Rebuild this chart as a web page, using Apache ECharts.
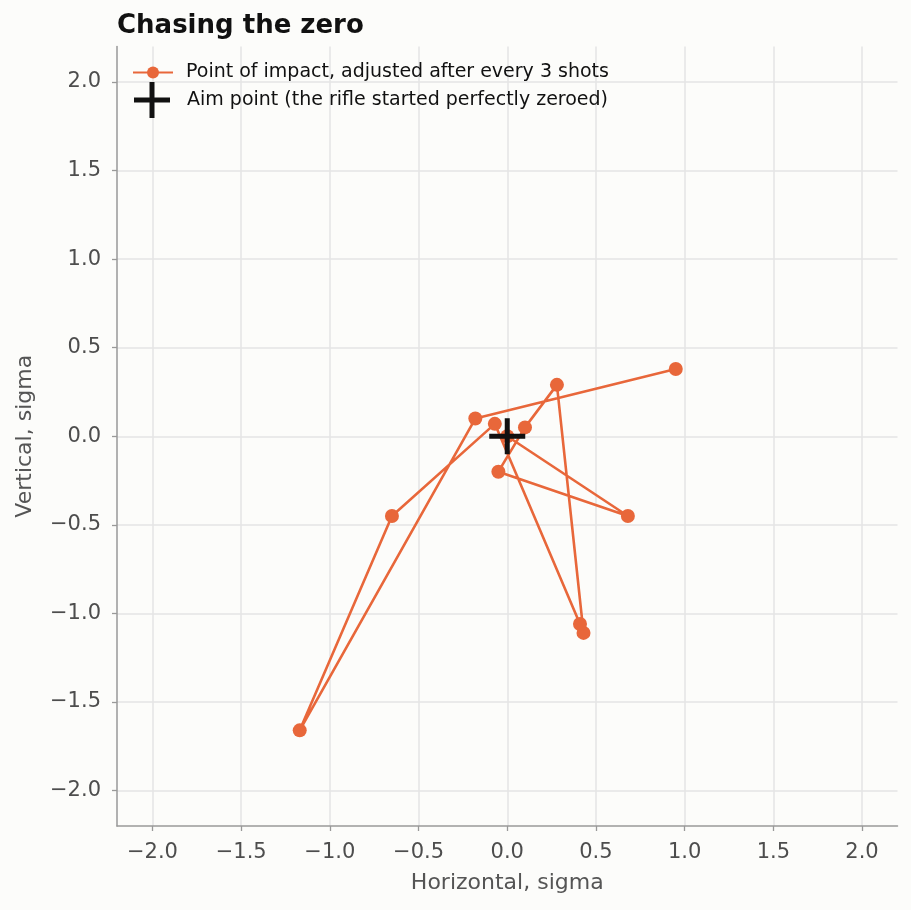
<!DOCTYPE html>
<html>
<head>
<meta charset="utf-8">
<script src="https://cdn.jsdelivr.net/npm/echarts@6/dist/echarts.min.js"></script>
<style>
  html, body { margin: 0; padding: 0; background: #fcfcfa; }
  #main { width: 911px; height: 910px; }
</style>
</head>
<body>
<div id="main"></div>
<script>
// point of impact after each 3-shot group, in order
var impactX = [0.00, 0.68, -0.05, 0.10, 0.28, 0.43, 0.41, -0.07, -0.65, -1.17, -0.18, 0.95];
var impactY = [0.00, -0.45, -0.20, 0.05, 0.29, -1.11, -1.06, 0.07, -0.45, -1.66, 0.10, 0.38];
var aimPoint = [0, 0];
var tickValues = [-2.0, -1.5, -1.0, -0.5, 0.0, 0.5, 1.0, 1.5, 2.0];

var impactName = 'Point of impact, adjusted after every 3 shots';
var aimName = 'Aim point (the rifle started perfectly zeroed)';
var orange = '#e8673a';
var crossPath = 'path://M0,15.5H36V20.5H0Z M15.5,0H20.5V36H15.5Z';

var impactData = impactX.map(function (x, i) { return [x, impactY[i]]; });

function fmt(v) {
  return v.toFixed(1).replace('-', '\u2212');
}

function makeAxis(name, isX) {
  return {
    type: 'value',
    min: -2.2,
    max: 2.2,
    name: name,
    nameLocation: 'middle',
    nameGap: isX ? 46 : 81,
    nameTextStyle: { fontFamily: 'DejaVu Sans', fontSize: 22, color: '#555' },
    axisLine: { show: true, onZero: false, lineStyle: { color: '#999', width: 1.5 } },
    axisTick: { show: true, length: 5, customValues: tickValues, lineStyle: { color: '#999', width: 1.3 } },
    axisLabel: {
      customValues: tickValues,
      margin: 16,
      fontFamily: 'DejaVu Sans',
      fontSize: 21,
      color: '#4d4d4d',
      formatter: fmt
    },
    splitLine: { show: true, customValues: tickValues, lineStyle: { color: '#e4e4e4', width: 1.5 } }
  };
}

var chart = echarts.init(document.getElementById('main'));
chart.setOption({
  backgroundColor: '#fcfcfa',
  animation: false,
  title: {
    text: 'Chasing the zero',
    left: 112,
    top: 8,
    textStyle: { fontFamily: 'DejaVu Sans', fontWeight: 'bold', fontSize: 26, color: '#111' }
  },
  legend: [
    {
      data: [impactName],
      left: 127,
      top: 58,
      itemWidth: 40,
      itemHeight: 15,
      textStyle: { fontFamily: 'DejaVu Sans', fontSize: 19, color: '#111', padding: [0, 0, 0, 8] }
    },
    {
      data: [{ name: aimName, icon: crossPath }],
      left: 129,
      top: 77,
      itemWidth: 40,
      itemHeight: 36,
      textStyle: { fontFamily: 'DejaVu Sans', fontSize: 19, color: '#111', padding: [0, 0, 0, 10] }
    }
  ],
  grid: { left: 117, right: 13.5, top: 46.5, bottom: 84, containLabel: false },
  xAxis: makeAxis('Horizontal, sigma', true),
  yAxis: makeAxis('Vertical, sigma', false),
  series: [
    {
      name: impactName,
      type: 'line',
      data: impactData,
      symbol: 'circle',
      symbolSize: 14,
      showAllSymbol: true,
      itemStyle: { color: orange },
      lineStyle: { color: orange, width: 2.6 },
      z: 2
    },
    {
      name: aimName,
      type: 'scatter',
      data: [aimPoint],
      symbol: crossPath,
      symbolSize: 36,
      itemStyle: { color: '#111', opacity: 1 },
      z: 5
    }
  ]
});
</script>
</body>
</html>
